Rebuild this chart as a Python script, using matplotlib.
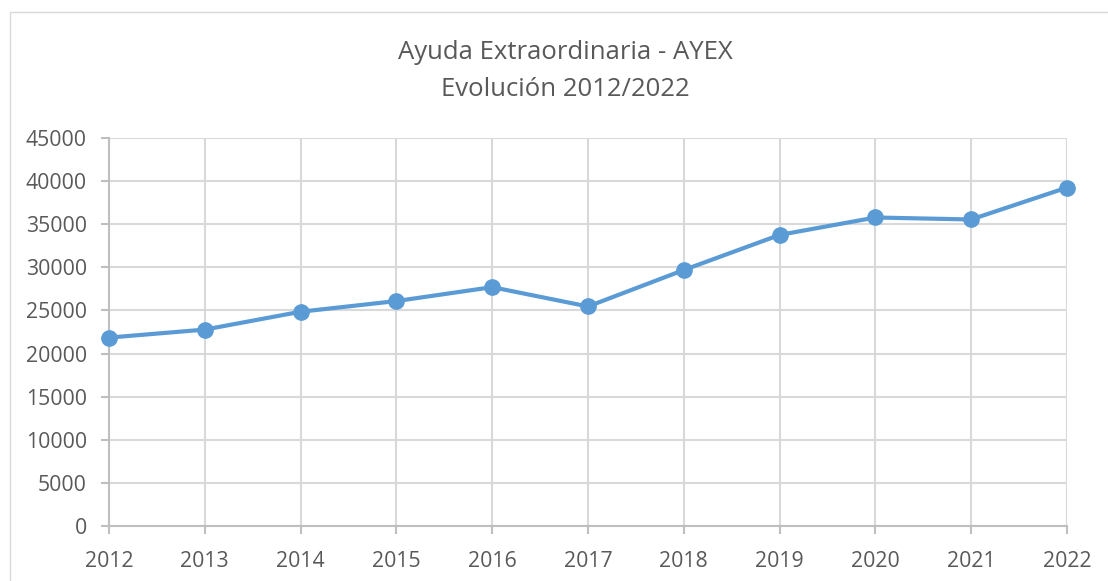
import matplotlib
matplotlib.use("Agg")
import matplotlib.pyplot as plt
from matplotlib.patches import Rectangle

years = [2012, 2013, 2014, 2015, 2016, 2017, 2018, 2019, 2020, 2021, 2022]
values = [21850, 22780, 24850, 26090, 27700, 25460, 29690, 33760, 35780, 35550, 39250]
yticks = [0, 5000, 10000, 15000, 20000, 25000, 30000, 35000, 40000, 45000]
title = "Ayuda Extraordinaria - AYEX\nEvolución 2012/2022"

plt.rcParams['font.family'] = ['Open Sans', 'DejaVu Sans']
text_color = '#595959'
grid_color = '#d9d9d9'
line_color = '#5b9bd5'

W, H = 1108, 581
fig = plt.figure(figsize=(W / 100, H / 100), dpi=100)
fig.patch.set_facecolor('white')

# chart border (cropped on right/bottom)
fig.patches.append(Rectangle((10 / W, -0.2), 1.5, (H - 12) / H + 0.2,
                             transform=fig.transFigure, fill=False,
                             edgecolor=grid_color, linewidth=1.0))

ax = fig.add_axes([109 / W, 1 - 526 / H, (1067 - 109) / W, (526 - 138) / H])
ax.plot(years, values, color=line_color, linewidth=3.0, marker='o',
        markersize=11, markerfacecolor=line_color, markeredgecolor=line_color,
        solid_capstyle='round', zorder=3, clip_on=False)

ax.set_xlim(years[0], years[-1])
ax.set_ylim(0, 45000)
ax.set_xticks(years)
ax.set_xticklabels([str(y) for y in years])
ax.set_yticks(yticks)
ax.set_yticklabels([str(v) for v in yticks])

ax.grid(True, color=grid_color, linewidth=1.5)
ax.set_axisbelow(True)
for s in ['top', 'right']:
    ax.spines[s].set_visible(False)
for s in ['left', 'bottom']:
    ax.spines[s].set_color('#bfbfbf')
    ax.spines[s].set_linewidth(1.5)

ax.tick_params(axis='both', colors='#bfbfbf', labelcolor=text_color,
               labelsize=15.3, length=6, width=1.5)
ax.tick_params(axis='x', pad=12)
ax.tick_params(axis='y', pad=10)

fig.text(565 / W, 1 - 71 / H, title, ha='center',
         va='center', fontsize=18.5, color=text_color, linespacing=1.6)

fig.savefig('out.png', dpi=100, facecolor='white')
